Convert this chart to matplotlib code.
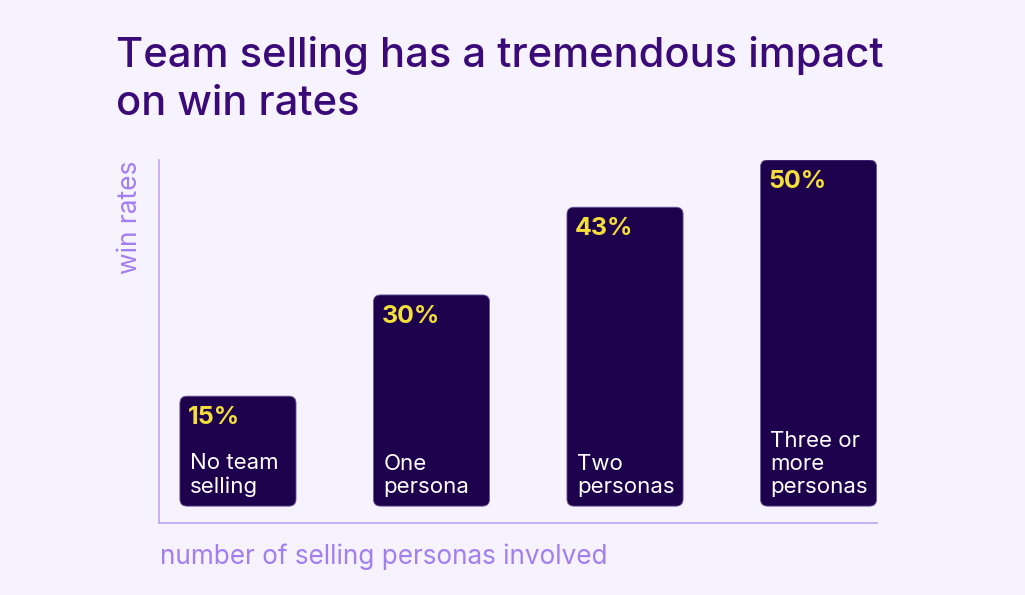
import matplotlib.pyplot as plt
from matplotlib.patches import FancyBboxPatch

# chart data
categories = ["No team\nselling", "One\npersona", "Two\npersonas", "Three or\nmore\npersonas"]
win_rates = [15, 30, 43, 50]
value_labels = ["15%", "30%", "43%", "50%"]

BG = "#f6f2fe"
BAR = "#1e014d"
YELLOW = "#f3df3c"
TITLE = "#3b0a79"
LIGHT = "#a27ff0"
AXIS = "#bba6f4"

plt.rcParams['font.family'] = ['Inter', 'DejaVu Sans']

W, H = 1025, 595
fig = plt.figure(figsize=(W / 100, H / 100), dpi=100, facecolor=BG)
# axes box in pixel terms: x 159..877, y 160..523 (from top)
ax = fig.add_axes([159 / W, 1 - 523 / H, (877 - 159) / W, (523 - 160) / H])
ax.set_facecolor(BG)

x_lo, x_hi = -0.408, 3.302
y_lo, y_hi = -3.8, 50.0
base = -1.3
width = 0.6
ax.set_xlim(x_lo, x_hi)
ax.set_ylim(y_lo, y_hi)

# pixels per data unit, used to keep the corner rounding circular
px_x = (877 - 159) / (x_hi - x_lo)
px_y = (523 - 160) / (y_hi - y_lo)
radius = 7 / px_x

for i, (val, cat, lab) in enumerate(zip(win_rates, categories, value_labels)):
    left = i - width / 2
    patch = FancyBboxPatch((left, base), width, val - base,
                           boxstyle="round,pad=0,rounding_size={}".format(radius),
                           mutation_aspect=px_x / px_y,
                           facecolor=BAR, edgecolor="#6a5a9a", linewidth=0.6)
    ax.add_patch(patch)
    ax.text(left + 8 / px_x, val - 10 / px_y, lab, color=YELLOW,
            fontsize=18, fontweight='bold', ha='left', va='top')
    ax.text(left + 10 / px_x, base + 9 / px_y, cat, color="white",
            fontsize=16, ha='left', va='bottom', linespacing=1.2)

for side in ['top', 'right']:
    ax.spines[side].set_visible(False)
for side in ['left', 'bottom']:
    ax.spines[side].set_color(AXIS)
    ax.spines[side].set_linewidth(1.2)
ax.set_xticks([])
ax.set_yticks([])

fig.text(116 / W, 1 - 36 / H, "Team selling has a tremendous impact\non win rates",
         color=TITLE, fontsize=30, fontweight='medium', ha='left', va='top',
         linespacing=1.32)
fig.text(160 / W, 1 - 564 / H, "number of selling personas involved",
         color=LIGHT, fontsize=18.8, ha='left', va='baseline')
fig.text(130 / W, 1 - 161 / H, "win rates", color=LIGHT, fontsize=19,
         rotation=90, ha='center', va='top')

fig.savefig("out.png", dpi=100, facecolor=BG)
